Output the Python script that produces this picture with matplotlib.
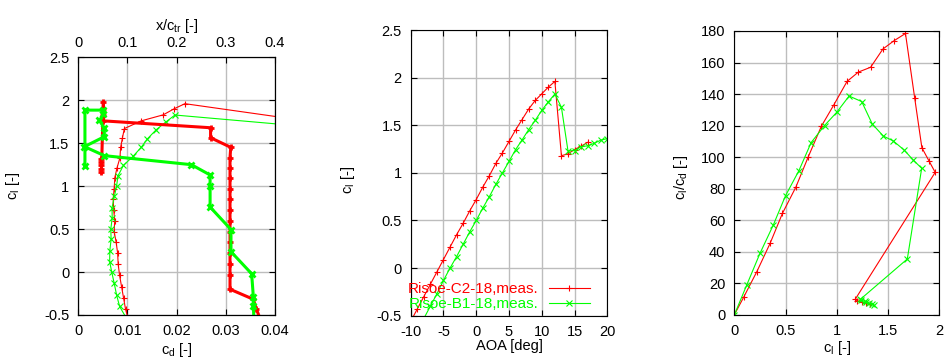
import numpy as np
import matplotlib
matplotlib.use('Agg')
import matplotlib.pyplot as plt
from matplotlib.ticker import FormatStrFormatter

plt.rcParams['font.family'] = ['Liberation Sans', 'DejaVu Sans']
plt.rcParams['mathtext.fontset'] = 'custom'
plt.rcParams['mathtext.rm'] = 'Liberation Sans'
plt.rcParams['mathtext.it'] = 'Liberation Sans:italic'
plt.rcParams['font.size'] = 10.5

# ---------------- data ----------------
# Risoe-C2-18 measurements
aoa_c2 = [-10, -9, -8, -7, -6, -5, -4, -3, -2, -1, 0, 1, 2, 3, 4, 5, 6, 7, 8, 9,
          10, 11, 12, 13, 14, 15, 16, 17]
cl_c2 = [-0.56, -0.43, -0.30, -0.17, -0.04, 0.09, 0.22, 0.35, 0.47, 0.60, 0.72,
         0.85, 0.97, 1.10, 1.21, 1.33, 1.45, 1.56, 1.67, 1.76, 1.83, 1.90, 1.96,
         1.18, 1.20, 1.245, 1.28, 1.32]
cd_c2 = [0.0102, 0.0096, 0.0092, 0.0088, 0.0084, 0.00811, 0.0080, 0.00769,
         0.00729, 0.00741, 0.0072, 0.00710, 0.00729, 0.00743, 0.00786, 0.00847,
         0.0086, 0.00897, 0.00936, 0.0128, 0.01726, 0.01947, 0.02168, 0.118,
         0.1333, 0.150, 0.1684, 0.1886]
# transition location (x/c_tr) for C2-18
cltr_c2 = [-0.56, -0.43, -0.317, -0.20, -0.04, 0.09, 0.22, 0.35, 0.47, 0.60,
           0.72, 0.85, 0.97, 1.10, 1.21, 1.33, 1.452, 1.564, 1.68, 1.76, 1.83,
           1.90, 1.983, 1.17, 1.20, 1.245, 1.28, 1.32]
xtr_c2 = [0.371, 0.362, 0.356, 0.3085, 0.3085, 0.3085, 0.3085, 0.3085, 0.3085,
          0.3085, 0.3085, 0.3085, 0.3085, 0.3085, 0.3085, 0.3085, 0.310, 0.269,
          0.269, 0.051, 0.051, 0.051, 0.051, 0.047, 0.047, 0.047, 0.047, 0.047]

# Risoe-B1-18 measurements
aoa_b1 = [-8, -7, -6, -5, -4, -3, -2, -1, 0, 1, 2, 3, 4, 5, 6, 7, 8, 9, 10, 11,
          12, 13, 14, 15, 16, 17, 18, 19, 20]
cl_b1 = [-0.53, -0.40, -0.27, -0.13, 0.0, 0.12, 0.25, 0.38, 0.50, 0.63, 0.75,
         0.88, 1.00, 1.12, 1.243, 1.346, 1.454, 1.551, 1.656, 1.746, 1.828, 1.688,
         1.231, 1.234, 1.276, 1.283, 1.311, 1.343, 1.36]
cd_b1 = [0.0097, 0.0084, 0.0078, 0.0073, 0.0068, 0.00638, 0.00641, 0.00667,
         0.00661, 0.00689, 0.00686, 0.00733, 0.00778, 0.00807, 0.00919, 0.01112,
         0.01282, 0.01406, 0.01583, 0.01778, 0.01966, 0.04755, 0.1231, 0.1327,
         0.1467, 0.1584, 0.1748, 0.1946, 0.2092]
# transition location (x/c_tr) for B1-18
cltr_b1 = [-0.53, -0.40, -0.29, -0.02, 0.237, 0.495, 0.757, 1.0, 1.13, 1.25,
           1.355, 1.46, 1.576, 1.673, 1.765, 1.835, 1.885, 1.885, 1.23]
xtr_b1 = [0.357, 0.356, 0.356, 0.3525, 0.3105, 0.3105, 0.268, 0.268, 0.268,
          0.230, 0.053, 0.0125, 0.053, 0.053, 0.043, 0.051, 0.051, 0.0135, 0.0135]

labels = ['Risoe-C2-18,meas.', 'Risoe-B1-18,meas.']

RED = '#ff0000'
GREEN = '#00ff00'
GRID = '#bdbdbd'

W, H = 948, 363
fig = plt.figure(figsize=(W / 100, H / 100), dpi=100)


def axes_px(l, r, t, b):
    return fig.add_axes([l / W, (H - b) / H, (r - l) / W, (b - t) / H])


def style(ax, xt, yt, xlim, ylim, top=True):
    ax.set_xlim(xlim)
    ax.set_ylim(ylim)
    ax.set_xticks(xt)
    ax.set_yticks(yt)
    ax.xaxis.set_major_formatter(FormatStrFormatter('%g'))
    ax.yaxis.set_major_formatter(FormatStrFormatter('%g'))
    ax.grid(True, color=GRID, lw=1.0)
    ax.set_axisbelow(True)
    ax.tick_params(direction='in', length=4, width=0.8, top=top, right=True,
                   labelsize=10.5)
    ax.tick_params(axis='x', pad=6.5)
    ax.tick_params(axis='y', pad=6.5)
    for s in ax.spines.values():
        s.set_linewidth(0.8)


thin_r = dict(color=RED, lw=0.8, marker='+', ms=5, mew=0.8)
thin_g = dict(color=GREEN, lw=0.8, marker='x', ms=4, mew=0.8)
thick_r = dict(color=RED, lw=2.2, marker='+', ms=5, mew=2.0)
thick_g = dict(color=GREEN, lw=2.2, marker='x', ms=4, mew=2.0)

cl_c2a = np.array(cl_c2)
cd_c2a = np.array(cd_c2)
cl_b1a = np.array(cl_b1)
cd_b1a = np.array(cd_b1)

# ---------------- panel 1: cl vs cd and transition ----------------
ax1 = axes_px(78.3, 275, 57.3, 315)
style(ax1, [0, 0.01, 0.02, 0.03, 0.04], [-0.5, 0, 0.5, 1, 1.5, 2, 2.5],
      (0, 0.04), (-0.5, 2.5), top=False)
ax1.plot(cd_c2, cl_c2, **thin_r)
ax1.plot(cd_b1, cl_b1, **thin_g)
ax1.set_xlabel(r'c$_\mathrm{d}$ [-]')
ax1.set_ylabel(r'c$_\mathrm{l}$ [-]')
ax1.xaxis.set_label_coords(0.5, -0.10)
ax1.yaxis.set_label_coords(-0.286, 0.5)

ax1t = ax1.twiny()
ax1t.set_xlim(0, 0.4)
ax1t.set_xticks([0, 0.1, 0.2, 0.3, 0.4])
ax1t.xaxis.set_major_formatter(FormatStrFormatter('%g'))
ax1t.tick_params(direction='in', length=4, width=0.8, top=True, bottom=False,
                 pad=5, labelsize=10.5)
ax1t.plot(xtr_c2, cltr_c2, **thick_r)
ax1t.plot(xtr_b1, cltr_b1, **thick_g)
ax1t.set_ylim(-0.5, 2.5)
ax1t.set_xlabel(r'x/c$_\mathrm{tr}$ [-]')
ax1t.xaxis.set_label_coords(0.5, 1.106)
for s in ax1t.spines.values():
    s.set_linewidth(0.8)

# ---------------- panel 2: cl vs AOA ----------------
ax2 = axes_px(410.7, 607.3, 30, 315.7)
style(ax2, [-10, -5, 0, 5, 10, 15, 20], [-0.5, 0, 0.5, 1, 1.5, 2, 2.5],
      (-10, 20), (-0.5, 2.5))
ax2.plot(aoa_c2, cl_c2, label=labels[0], **thin_r)
ax2.plot(aoa_b1, cl_b1, label=labels[1], **thin_g)
ax2.set_xlabel('AOA [deg]')
ax2.set_ylabel(r'c$_\mathrm{l}$ [-]')
ax2.xaxis.set_label_coords(0.5, -0.082)
ax2.yaxis.set_label_coords(-0.273, 0.475)
leg = ax2.legend(loc='lower right', bbox_to_anchor=(0.912, 0.015),
                 frameon=False, markerfirst=False, handlelength=2.7,
                 handletextpad=0.65, labelspacing=0.08, borderpad=0,
                 borderaxespad=0, labelcolor='linecolor', fontsize=11)

# ---------------- panel 3: cl/cd vs cl ----------------
ax3 = axes_px(734.3, 939.3, 31, 315)
style(ax3, [0, 0.5, 1, 1.5, 2], list(range(0, 181, 20)), (0, 2), (0, 180))
ax3.plot(cl_c2a, cl_c2a / cd_c2a, **thin_r)
ax3.plot(cl_b1a, cl_b1a / cd_b1a, **thin_g)
ax3.set_xlabel(r'c$_\mathrm{l}$ [-]')
ax3.set_ylabel(r'c$_\mathrm{l}$/c$_\mathrm{d}$ [-]')
ax3.xaxis.set_label_coords(0.5, -0.085)
ax3.yaxis.set_label_coords(-0.216, 0.486)

fig.savefig('out.png', dpi=100)
